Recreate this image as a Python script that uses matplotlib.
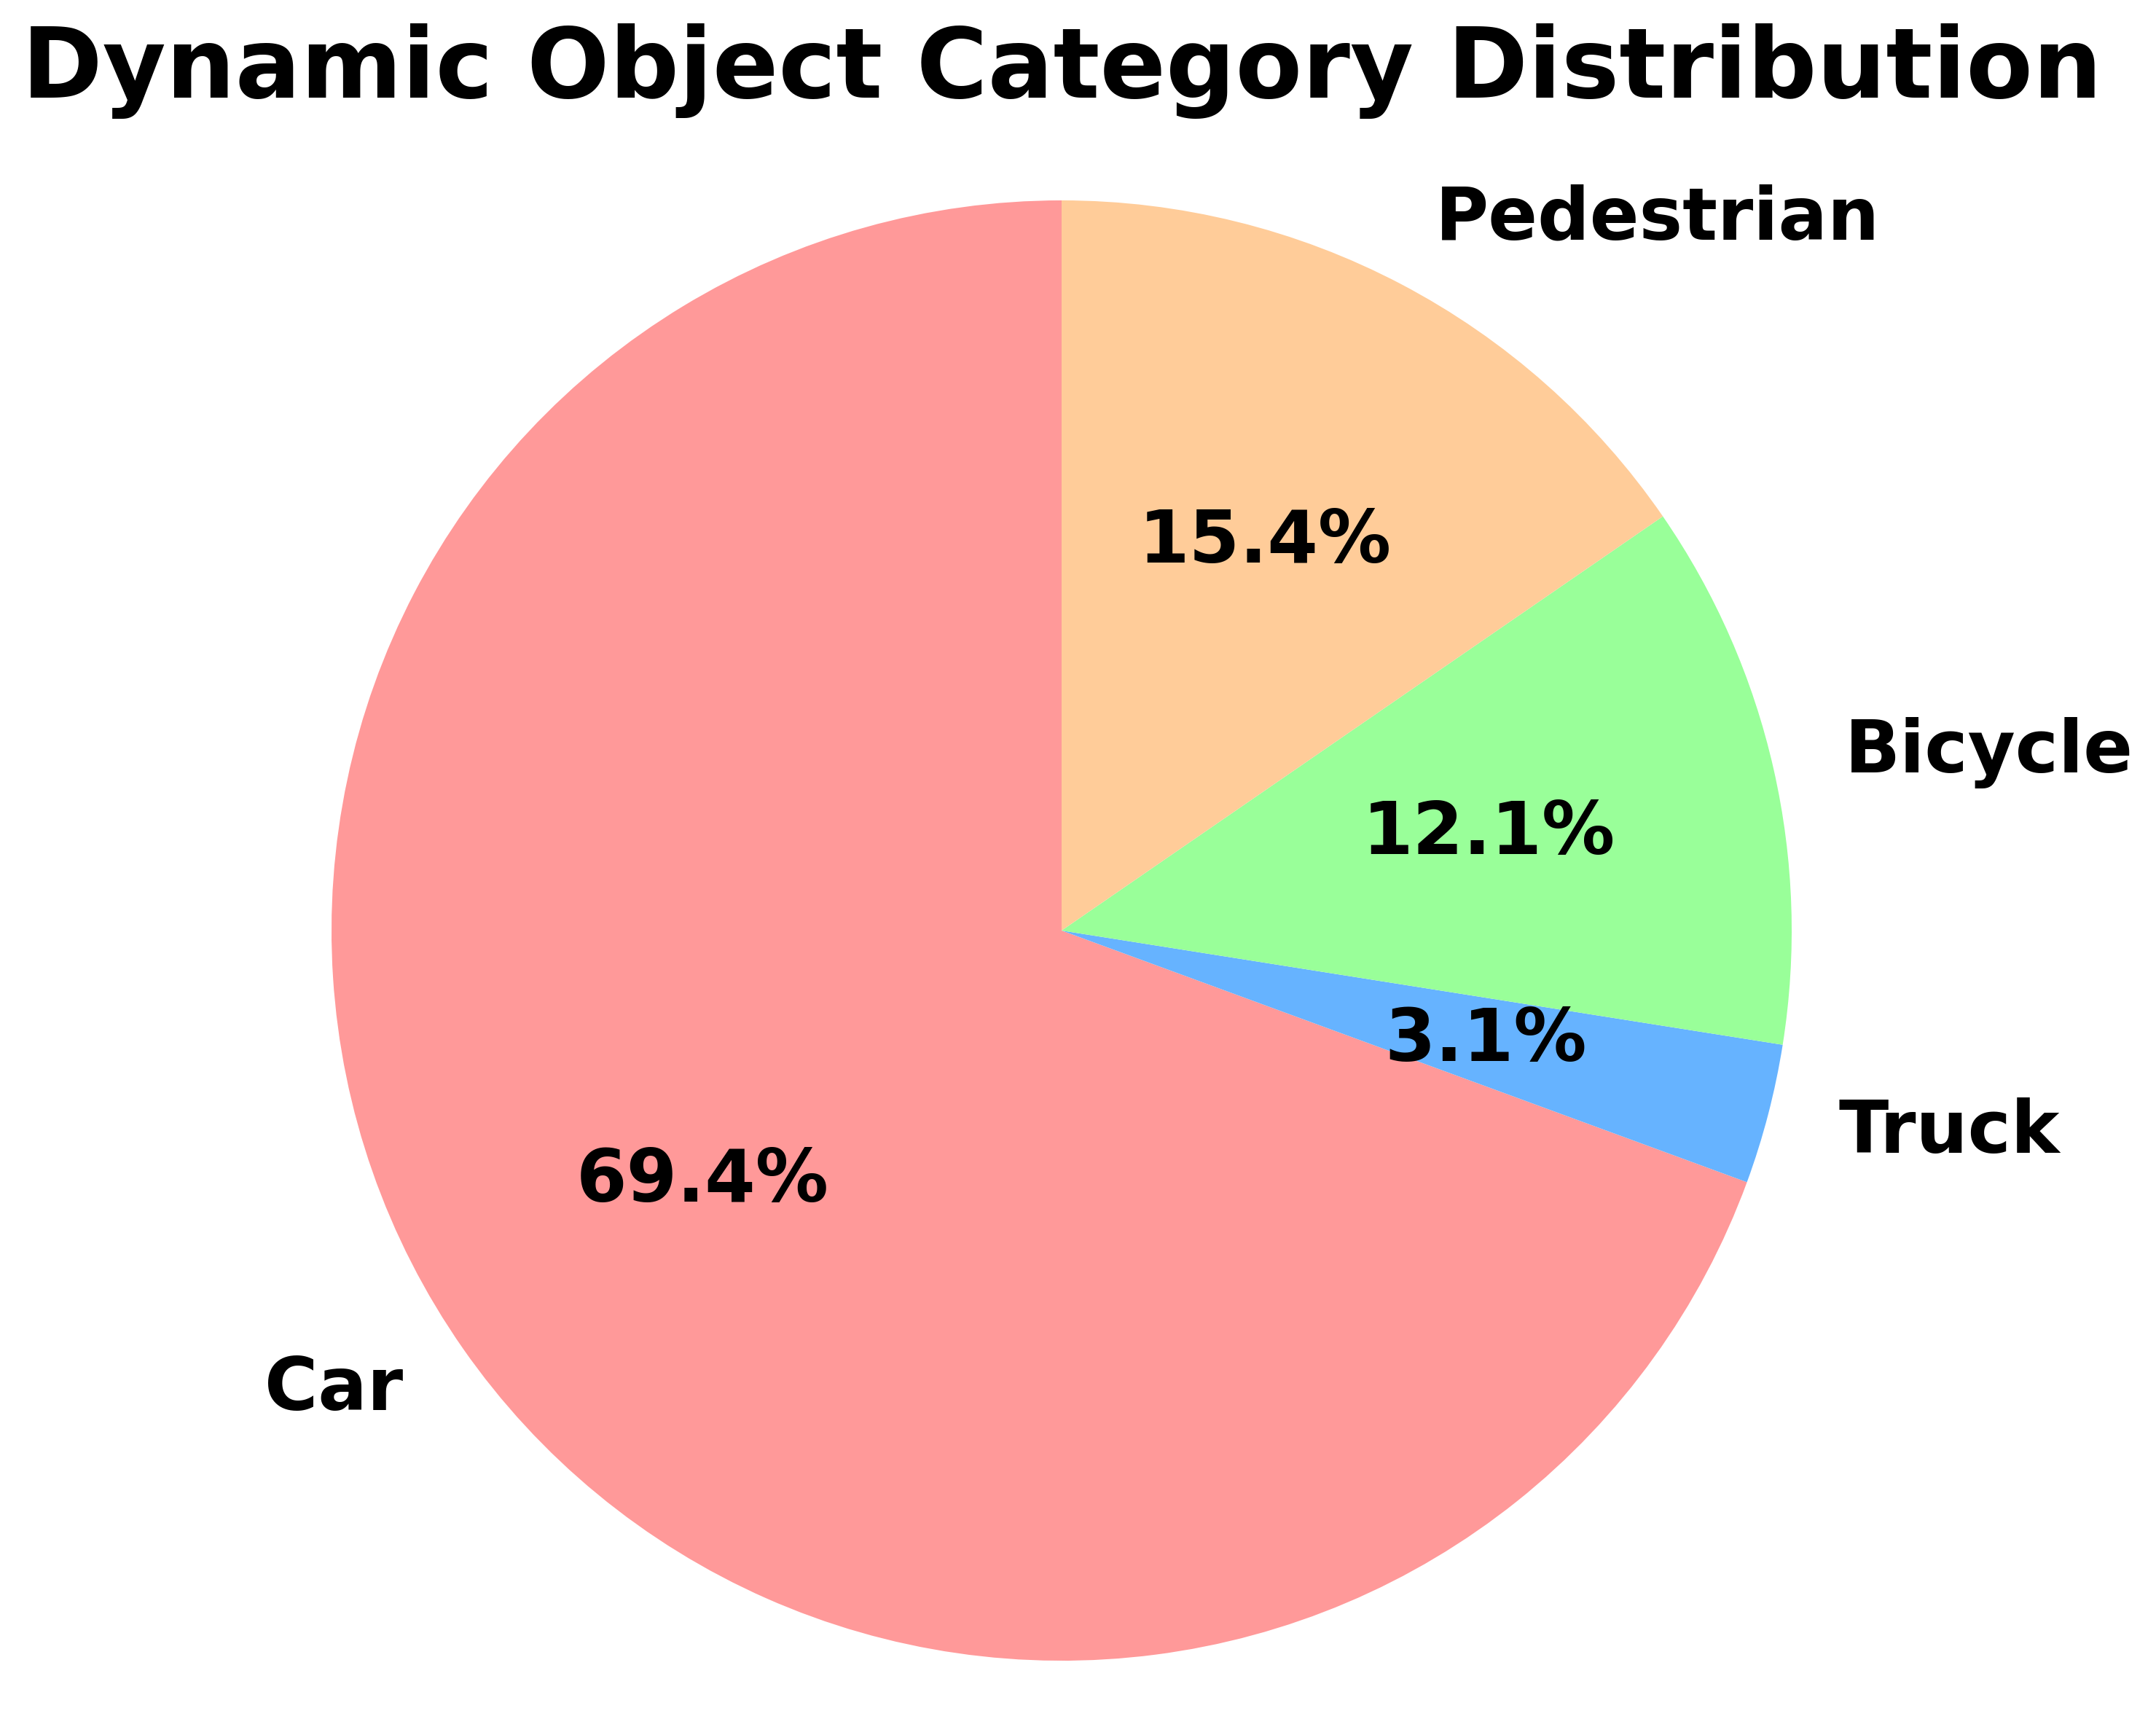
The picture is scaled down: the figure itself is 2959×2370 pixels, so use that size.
import matplotlib
matplotlib.use('Agg')
import matplotlib.pyplot as plt

# Data
categories = ['Car', 'Truck', 'Bicycle', 'Pedestrian']
shares = [69.4, 3.1, 12.1, 15.4]
colors = ['#ff9999', '#66b3ff', '#99ff99', '#ffcc99']

W, H, DPI = 2959, 2370, 300
fig = plt.figure(figsize=(W / DPI, H / DPI), dpi=DPI)

# pie centre and radius in pixels
cx, cy, r = 1457, 1277, 1002
half = 1.25 * r
ax = fig.add_axes([(cx - half) / W, (H - cy - half) / H, 2 * half / W, 2 * half / H])

ax.pie(shares, labels=categories, colors=colors, autopct='%1.1f%%', startangle=90,
       textprops={'fontsize': 24, 'fontweight': 'bold'})
ax.set_xlim(-1.25, 1.25)
ax.set_ylim(-1.25, 1.25)
ax.set_aspect('equal')

fig.text(cx / W, 1 - 134 / H, 'Dynamic Object Category Distribution',
         ha='center', va='baseline', fontsize=32, fontweight='bold')

plt.savefig('out.png', dpi=DPI)
